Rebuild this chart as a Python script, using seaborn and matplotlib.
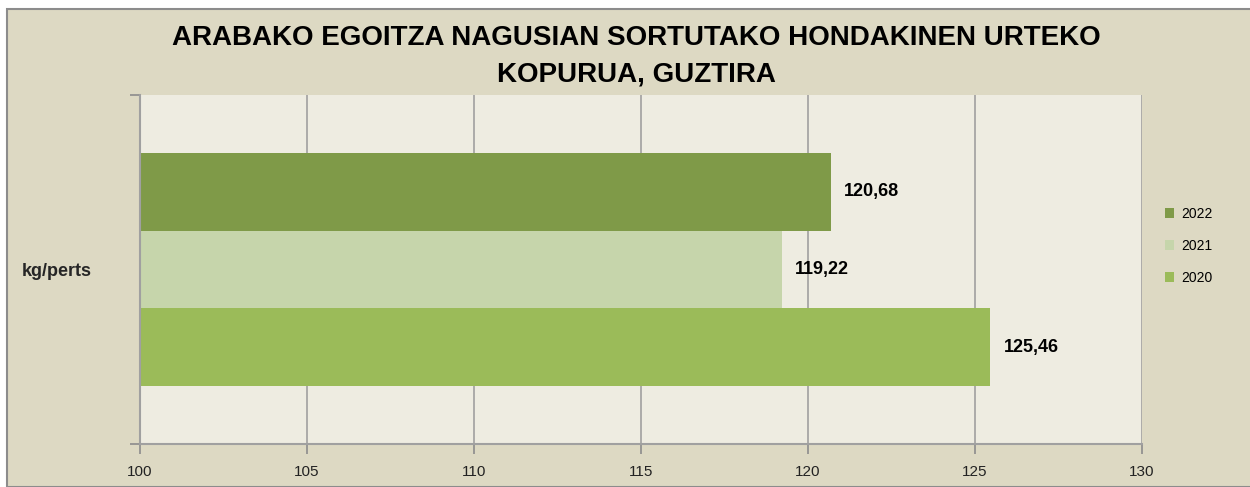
import pandas as pd
import seaborn as sns
import matplotlib.pyplot as plt
from matplotlib.patches import Rectangle

# values
years = ['2022', '2021', '2020']
values = [120.68, 119.22, 125.46]
labels = ['120,68', '119,22', '125,46']
category = 'kg/perts'
xticks = [100, 105, 110, 115, 120, 125, 130]
colors = ['#7f9a48', '#c6d5ab', '#9bbb59']

df = pd.DataFrame({'cat': [category] * 3, 'year': years, 'value': values})

sns.set_style('white')
plt.rcParams['font.family'] = ['Liberation Sans', 'DejaVu Sans']
plt.rcParams['text.color'] = 'black'

fig = plt.figure(figsize=(12.5, 4.87), dpi=100, facecolor='white')
# beige chart frame, with white strip on top/left like the screenshot
fig.patches.append(Rectangle((7 / 1250, 0), 1, 1 - 9 / 487, transform=fig.transFigure,
                             facecolor='#ddd9c3', edgecolor='#8c8c8c', linewidth=1.5, zorder=-5))
ax = fig.add_axes([140 / 1250, 1 - 444 / 487, 1002 / 1250, 349 / 487])
ax.set_facecolor('#eeece1')

sns.barplot(data=df, y='cat', x='value', hue='year', hue_order=years,
            palette=colors, orient='h', width=0.667, saturation=1, linewidth=0,
            ax=ax, legend=False)

ax.set_xlim(100, 130)
ax.set_ylim(0.5, -0.5)
ax.set_xticks(xticks)
ax.set_xticklabels([str(t) for t in xticks], fontsize=11)
ax.xaxis.grid(True, color='#a0a0a0', linewidth=1.2)
ax.set_axisbelow(True)
ax.tick_params(axis='x', bottom=True, length=7, color='#8c8c8c', width=1.2, pad=8,
               labelcolor='#222222')
ax.set_yticks([0])
ax.set_yticklabels([category], fontsize=13, fontweight='bold')
ax.tick_params(axis='y', left=True, length=0, pad=35)
ax.set_yticks([-0.5, 0.5], minor=True)
ax.tick_params(axis='y', which='minor', left=True, length=7, color='#8c8c8c', width=1.2)
ax.set_xlabel('')
ax.set_ylabel('')
for s in ['top', 'right']:
    ax.spines[s].set_visible(False)
for s in ['left', 'bottom']:
    ax.spines[s].set_color('#a0a0a0')
    ax.spines[s].set_linewidth(1.5)

for bar, lab in zip(ax.patches, labels):
    ax.text(bar.get_width() + bar.get_x() + 0.4, bar.get_y() + bar.get_height() / 2, lab,
            va='center', ha='left', fontsize=13, fontweight='bold')

handles = [Rectangle((0, 0), 1, 1, facecolor=c, edgecolor='none') for c in colors]
fig.legend(handles, years, loc='center left', bbox_to_anchor=(1152 / 1250, 1 - 246 / 487),
           frameon=False, fontsize=10, handlelength=0.7, handleheight=0.7,
           handletextpad=0.5, labelspacing=1.3)

fig.text(0.509, 1 - 38 / 487, 'ARABAKO EGOITZA NAGUSIAN SORTUTAKO HONDAKINEN URTEKO',
         ha='center', va='center', fontsize=20, fontweight='bold')
fig.text(0.509, 1 - 75 / 487, 'KOPURUA, GUZTIRA',
         ha='center', va='center', fontsize=20, fontweight='bold')

fig.savefig('out.png', dpi=100, facecolor=fig.get_facecolor())
